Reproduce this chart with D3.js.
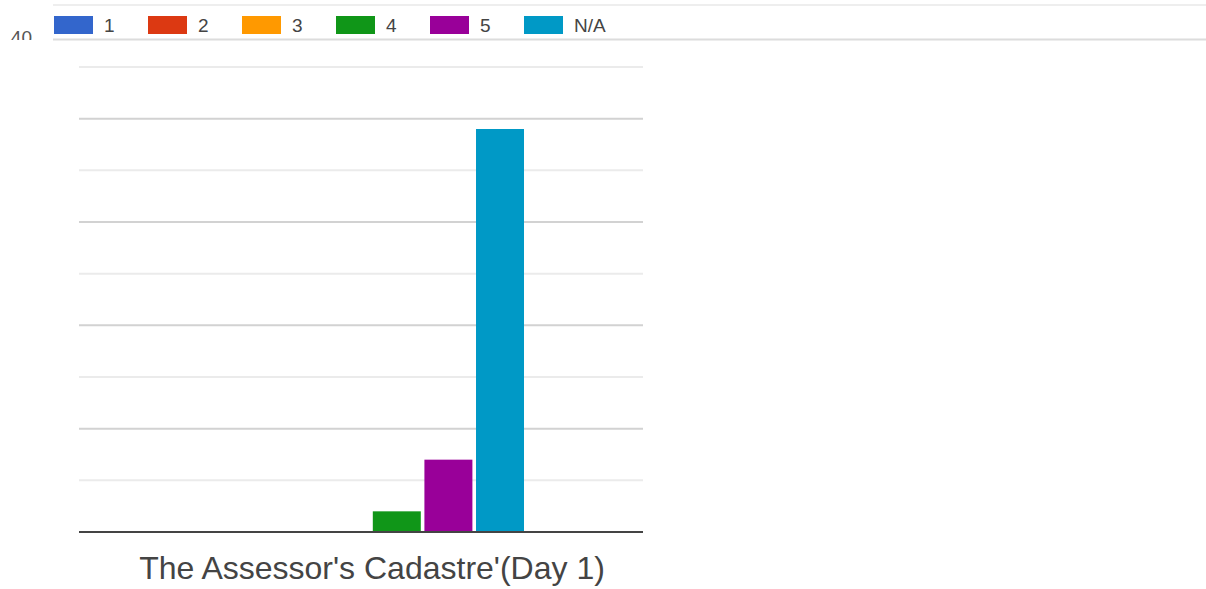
<!DOCTYPE html>
<html>
<head>
<meta charset="utf-8">
<script src="https://cdn.jsdelivr.net/npm/d3@7/dist/d3.min.js"></script>
<style>
  html, body { margin: 0; padding: 0; background: #fff; }
  svg { display: block; font-family: "Liberation Sans", Arial, sans-serif; }
</style>
</head>
<body>
<svg id="chart" width="1206" height="589"></svg>
<script>
// ---- data ----
const categories = ["The Assessor's Cadastre'(Day 1)"];
const seriesNames = ["1", "2", "3", "4", "5", "N/A"];
const seriesValues = [0, 0, 0, 2, 7, 39];
const seriesColors = ["#3366cc", "#dc3912", "#ff9900", "#109618", "#990099", "#0099c6"];
const gridTicks = [5, 10, 15, 20, 25, 30, 35, 40, 45];
const majorTicks = [10, 20, 30, 40];
const cutTickLabel = "40";

const svg = d3.select("#chart");

const plotLeft = 79, plotRight = 643, plotTop = 67, plotBottom = 532;

const y = d3.scaleLinear().domain([0, 45]).range([plotBottom, plotTop]);
const x0 = d3.scaleBand().domain(categories).range([79, 665]).paddingInner(0).paddingOuter(0.4575);
const x1 = d3.scaleBand().domain(seriesNames).range([0, x0.bandwidth()]).paddingInner(0.07).paddingOuter(0);

// gridlines
svg.append("g").selectAll("line").data(gridTicks).join("line")
  .attr("x1", plotLeft).attr("x2", plotRight)
  .attr("y1", d => y(d)).attr("y2", d => y(d))
  .attr("stroke", d => majorTicks.includes(d) ? "#d2d2d2" : "#ebebeb")
  .attr("stroke-width", 2);

// bars
const g = svg.append("g");
categories.forEach(cat => {
  g.selectAll("rect").data(seriesNames.map((s, i) => ({s, v: seriesValues[i], c: seriesColors[i]})))
    .join("rect")
    .filter(d => d.v > 0)
    .attr("x", d => x0(cat) + x1(d.s) - 1)
    .attr("width", x1.bandwidth())
    .attr("y", d => y(d.v))
    .attr("height", d => y(0) - y(d.v))
    .attr("fill", d => d.c);
});

// baseline
svg.append("line")
  .attr("x1", plotLeft).attr("x2", plotRight)
  .attr("y1", y(0)).attr("y2", y(0))
  .attr("stroke", "#444").attr("stroke-width", 2);

// category label
svg.append("g").selectAll("text").data(categories).join("text")
  .attr("x", d => x0(d) + x0.bandwidth() / 2)
  .attr("y", 579)
  .attr("text-anchor", "middle")
  .attr("font-size", 32)
  .attr("fill", "#444")
  .text(d => d);

// legend lines (top)
svg.append("line").attr("x1", 53).attr("x2", 1206).attr("y1", 5).attr("y2", 5)
  .attr("stroke", "#eeeeee").attr("stroke-width", 2);
svg.append("line").attr("x1", 53).attr("x2", 1206).attr("y1", 39.5).attr("y2", 39.5)
  .attr("stroke", "#dcdcdc").attr("stroke-width", 2);

// cut tick label "40"
svg.append("clipPath").attr("id", "cut").append("rect")
  .attr("x", 0).attr("y", 0).attr("width", 50).attr("height", 40);
svg.append("text")
  .attr("clip-path", "url(#cut)")
  .attr("x", 32).attr("y", 44)
  .attr("text-anchor", "end")
  .attr("font-size", 19)
  .attr("fill", "#555")
  .text(cutTickLabel);

// legend
const legendX = d3.scaleBand().domain(seriesNames).range([54, 54 + 94 * seriesNames.length]).padding(0);
const leg = svg.append("g").selectAll("g").data(seriesNames).join("g")
  .attr("transform", d => `translate(${legendX(d)},0)`);
leg.append("rect")
  .attr("x", 0).attr("y", 16).attr("width", 39).attr("height", 18)
  .attr("fill", (d, i) => seriesColors[i]);
leg.append("text")
  .attr("x", 50).attr("y", 32)
  .attr("font-size", 19)
  .attr("fill", "#444")
  .text(d => d);
</script>
</body>
</html>
